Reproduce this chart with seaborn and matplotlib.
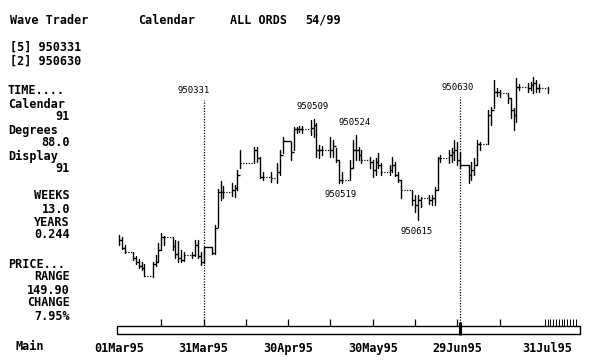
import matplotlib
matplotlib.use("Agg")
import pandas as pd
import matplotlib.pyplot as plt
import matplotlib.patches as mpatches
import matplotlib.dates as mdates
import seaborn as sns

# ── Données : ALL ORDS, barres journalières Mar–Jul 1995 ─────────────
HOLIDAYS = ["1995-04-14", "1995-04-17", "1995-04-25", "1995-06-12"]
days = pd.bdate_range("1995-03-01", "1995-07-31")
days = days[~days.isin(pd.to_datetime(HOLIDAYS))]

high = [1952, 1950, 1942, 1935, 1931, 1928, 1925, 1923, 1925, 1932, 1944, 1954,
        1951, 1950, 1947, 1946, 1937, 1935, 1935, 1947, 1947, 1935, 1940,
        1940, 1962, 1998, 2006, 2001, 2004, 2002, 2017, 2037, 2040, 2040, 2030,
        2015, 2015, 2024, 2037, 2050,
        2045, 2060, 2060, 2061, 2061, 2067, 2068, 2064, 2042, 2041, 2050, 2047,
        2039, 2027, 2015, 2027, 2047, 2052, 2040, 2037, 2030, 2027, 2029,
        2034, 2024, 2022, 2030, 2025, 2015, 2007, 1997, 1992, 1992, 1990, 1992,
        1992, 2000, 2030, 2032, 2037, 2039, 2047, 2045, 2035,
        2022, 2025, 2029, 2047, 2045, 2077, 2080, 2107, 2099, 2097, 2094, 2089,
        2079, 2109, 2103, 2104, 2105, 2110, 2107, 2103, 2100]
low = [1942, 1938, 1934, 1927, 1923, 1919, 1917, 1911, 1910, 1921, 1925, 1937,
       1942, 1937, 1929, 1925, 1925, 1926, 1929, 1931, 1929, 1922, 1924,
       1933, 1933, 1960, 1987, 1989, 1991, 1990, 1997, 2019, 2024, 2025, 2009,
       2007, 2005, 2004, 2012, 2034,
       2027, 2037, 2054, 2055, 2054, 2052, 2050, 2030, 2029, 2032, 2030, 2030,
       2025, 2004, 2004, 2007, 2019, 2027, 2027, 2024, 2019, 2010, 2012,
       2019, 2012, 2012, 2015, 2011, 2005, 1989, 1982, 1975, 1967, 1980, 1983,
       1982, 1982, 1997, 2025, 2024, 2025, 2027, 2022, 2019,
       2004, 2007, 2012, 2022, 2037, 2043, 2062, 2079, 2091, 2090, 2084, 2069,
       2057, 2065, 2097, 2095, 2097, 2094, 2095, 2095, 2094]
close = [1947, 1939, 1935, 1929, 1925, 1921, 1919, 1911, 1923, 1925, 1937, 1950,
         1950, 1941, 1933, 1929, 1927, 1932, 1932, 1942, 1931, 1925, 1940,
         1934, 1959, 1995, 1995, 1995, 1997, 1999, 2012, 2024, 2037, 2029, 2010,
         2010, 2009, 2015, 2032, 2046,
         2035, 2058, 2058, 2058, 2058, 2059, 2062, 2037, 2037, 2037, 2037, 2041,
         2027, 2007, 2007, 2019, 2037, 2037, 2032, 2027, 2025, 2017, 2025,
         2022, 2015, 2017, 2022, 2012, 2007, 1997, 1987, 1982, 1987, 1989, 1987,
         1989, 1997, 2029, 2029, 2032, 2035, 2037, 2027, 2022,
         2012, 2017, 2022, 2043, 2043, 2072, 2077, 2095, 2095, 2094, 2089, 2077,
         2072, 2100, 2100, 2099, 2102, 2104, 2099, 2099, 2097]

markers = ["1995-03-31", "1995-06-30"]
marker_labels = ["950331", "950630"]
pivots = ["1995-05-09", "1995-05-19", "1995-05-24", "1995-06-15"]
pivot_kind = ["high", "low", "high", "low"]
pivot_labels = ["950509", "950519", "950524", "950615"]

date_ticks = ["1995-03-01", "1995-03-31", "1995-04-30", "1995-05-30", "1995-06-29", "1995-07-31"]
date_tick_labels = ["01Mar95", "31Mar95", "30Apr95", "30May95", "29Jun95", "31Jul95"]
strip_ticks = pd.date_range("1995-03-16", periods=9, freq="15D")
strip_dense = pd.date_range("1995-07-30", "1995-08-10", freq="D")

# ── Mise en page ─────────────────────────────────────────────────────
W, H = 590, 360
sns.set_theme(style="white")
plt.rcParams["font.family"] = ["DejaVu Sans Mono", "DejaVu Sans"]
BIG = dict(fontsize=8.5, fontweight="bold", color="black")
SMALL = dict(fontsize=6.5, color="black")

fig = plt.figure(figsize=(W / 100, H / 100), dpi=100)
fig.patch.set_facecolor("white")


def px(x, y):
    return x / W, 1 - y / H


# axes principal : x 110..585 px, y 60..340 px
ax = fig.add_axes([110 / W, (H - 340) / H, 475 / W, 280 / H])
ax.set_facecolor("white")

df = pd.DataFrame({"date": days, "high": high, "low": low, "close": close})
bars = pd.concat([
    df[["date", "low"]].rename(columns={"low": "price"}).assign(day=range(len(df))),
    df[["date", "high"]].rename(columns={"high": "price"}).assign(day=range(len(df))),
])
sns.lineplot(data=bars, x="date", y="price", units="day", estimator=None,
             color="black", linewidth=1.0, legend=False, ax=ax)

# liaisons de clôture : pointillées sur les jours non ouvrés
nxt = df["date"].shift(-1)
gap = (nxt - df["date"]).dt.days
new_month = nxt.dt.month != df["date"].dt.month
seg = df.assign(end=nxt)[:-1]
dotted = (gap[:-1] > 1) & ~new_month[:-1]
ax.hlines(seg.loc[~dotted, "close"], seg.loc[~dotted, "date"], seg.loc[~dotted, "end"],
          color="black", linewidth=1.0)
ax.hlines(seg.loc[dotted, "close"], seg.loc[dotted, "date"], seg.loc[dotted, "end"],
          color="black", linewidth=0.9, linestyles=(0, (1, 1.2)))

t0 = pd.Timestamp("1995-03-01")
ax.set_xlim(t0 - pd.Timedelta(days=3.2), t0 + pd.Timedelta(days=165.3))
ax.set_ylim(1847, 2127)

# étiquettes des pivots
hi_lo = df.set_index("date")
pivot_off = {"high": 9, "low": -8}
for d, k, lab in zip(pivots, pivot_kind, pivot_labels):
    t = pd.Timestamp(d)
    y = hi_lo.loc[t, k]
    ax.annotate(lab, (mdates.date2num(t), y), xytext=(-1, pivot_off[k]),
                textcoords="offset points", ha="center", va="center", **SMALL)

# lignes verticales des dates marquées
xt = ax.get_xaxis_transform()
for d, lab, top, bot, dx in zip(markers, marker_labels, [0.857, 0.868], [0.05, 0.021], [-7, -2]):
    xn = mdates.date2num(pd.Timestamp(d))
    ax.vlines(xn, bot, top, transform=xt, color="black", linewidth=0.9,
              linestyles=(0, (1, 1.2)))
    ax.annotate(lab, (xn, top + 0.035), xycoords=xt, xytext=(dx, 0),
                textcoords="offset points", ha="center", va="center", **SMALL)

# bande de navigation en bas
ax.add_patch(mpatches.Rectangle((7 / 475, 0.021), 463 / 475, 0.029, transform=ax.transAxes,
                                fill=False, edgecolor="black", linewidth=1.0, clip_on=False))
ax.vlines(mdates.date2num(strip_ticks), 0.05, 0.075, transform=xt, color="black", linewidth=0.9)
ax.vlines(mdates.date2num(strip_dense), 0.05, 0.075, transform=xt, color="black", linewidth=0.7)
ax.vlines(mdates.date2num(pd.Timestamp(markers[1])), 0.018, 0.064, transform=xt,
          color="black", linewidth=2.2)

ax.set_xticks(mdates.date2num(pd.to_datetime(date_ticks)))
ax.set_xticklabels(date_tick_labels, **BIG)
ax.tick_params(axis="x", length=0, pad=1.5)
ax.set_yticks([])
ax.set_xlabel("")
ax.set_ylabel("")
for s in ax.spines.values():
    s.set_visible(False)

# ── En-tête ──────────────────────────────────────────────────────────
for txt, x, y in [("Wave Trader", 10, 20), ("Calendar", 138, 20), ("ALL ORDS", 230, 20),
                  ("54/99", 305, 20), ("[5] 950331", 10, 47), ("[2] 950630", 10, 61)]:
    fig.text(*px(x, y), txt, ha="left", va="center", **BIG)

# ── Panneau de gauche ────────────────────────────────────────────────
left_panel = [("TIME....", 8, 91, "left"), ("Calendar", 8, 104, "left"), ("91", 70, 117, "right"),
              ("Degrees", 8, 130, "left"), ("88.0", 70, 143, "right"), ("Display", 8, 156, "left"),
              ("91", 70, 169, "right"), ("WEEKS", 70, 196, "right"), ("13.0", 70, 209, "right"),
              ("YEARS", 70, 222, "right"), ("0.244", 70, 235, "right"), ("PRICE...", 8, 264, "left"),
              ("RANGE", 70, 277, "right"), ("149.90", 70, 290, "right"), ("CHANGE", 70, 303, "right"),
              ("7.95%", 70, 316, "right"), ("Main", 15, 347, "left")]
for txt, x, y, ha in left_panel:
    fig.text(*px(x, y), txt, ha=ha, va="center", **BIG)

fig.savefig("out.png", dpi=100, facecolor="white")
